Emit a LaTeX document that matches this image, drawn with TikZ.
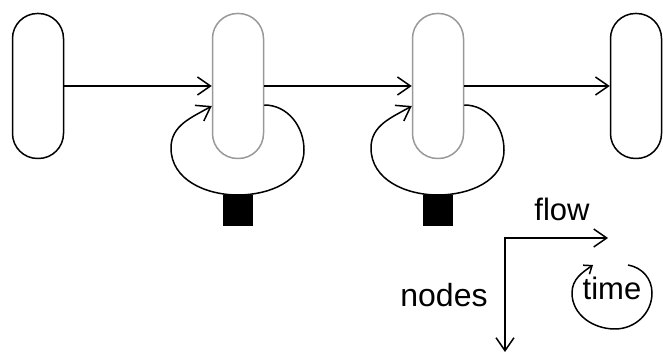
\documentclass[tikz,border=0pt]{standalone}
\usepackage{fontspec}
\setmainfont{Liberation Sans}
\usetikzlibrary{arrows.meta,calc}

\tikzset{
  pill/.style={draw, line width=1.5pt, rounded corners=25pt,
    minimum width=51pt, minimum height=145pt, inner sep=0pt},
  pillgray/.style={pill, draw=gray!80},
  block/.style={fill=black, minimum width=30pt, minimum height=31pt, inner sep=0pt},
  arr/.style={line width=1.5pt, -{Straight Barb[length=13pt,width=18pt]}},
  smallarr/.style={line width=1.5pt, -{Straight Barb[length=7pt,width=11pt]}},
  lbl/.style={anchor=base, inner sep=0pt},
}

\begin{document}
\begin{tikzpicture}[x=1pt, y=1pt]
  \useasboundingbox (0,0) rectangle (663,355);

  % --- pillole ---
  \node[pill]     (n1) at (38,269)  {};
  \node[pillgray] (n2) at (238,269) {};
  \node[pillgray] (n3) at (438,269) {};
  \node[pill]     (n4) at (636,269) {};

  % --- blocchi neri ---
  \node[block] (b2) at (238,144.5) {};
  \node[block] (b3) at (438,144.5) {};

  % --- frecce orizzontali ---
  \draw[arr] (n1) -- (n2);
  \draw[arr] (n2) -- (n3);
  \draw[arr] (n3) -- (n4);

  % --- anelli ---
  \draw[arr] ($(n2.east)+(0,-19)$) to[out=0, in=90] ($(n2)+(66,-64)$)
    to[out=-90, in=0] ($(n2)+(0,-109)$)
    to[out=180, in=-90] ($(n2)+(-67,-62)$)
    to[out=90, in=210] ($(n2.west)+(0,-20)$);
  \draw[arr] ($(n3.east)+(0,-19)$) to[out=0, in=90] ($(n3)+(66,-64)$)
    to[out=-90, in=0] ($(n3)+(0,-109)$)
    to[out=180, in=-90] ($(n3)+(-67,-62)$)
    to[out=90, in=210] ($(n3.west)+(0,-20)$);

  % --- assi ---
  \coordinate (o)  at (505,117);
  \coordinate (fx) at (608,117);
  \coordinate (fy) at (505,3);
  \draw[line width=1.5pt, {Straight Barb[length=13pt,width=18pt]}-{Straight Barb[length=13pt,width=18pt]}]
    (fy) -- (o) -- (fx);

  \node[lbl, font=\fontsize{31}{32}\selectfont] (flow)  at (562,134) {flow};
  \node[lbl, font=\fontsize{32}{34}\selectfont] (nodes) at (444,48)  {nodes};
  \node[lbl, font=\fontsize{31}{32}\selectfont] (time)  at (612,55)  {time};

  % --- cerchio del tempo ---
  \coordinate (t0) at (628,90);
  \coordinate (t1) at (593,90);
  \draw[smallarr] (t0) to[out=-10, in=90] (652,62)
    to[out=-90, in=0] (615,26)
    to[out=180, in=-90] (572,62)
    to[out=90, in=215] (t1);

\end{tikzpicture}
\end{document}
